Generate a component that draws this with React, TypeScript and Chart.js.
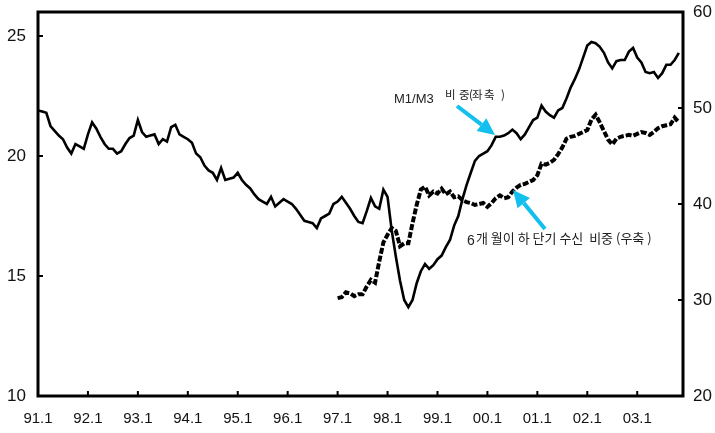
import React, { useEffect, useRef } from "react";
import { Chart, registerables } from "chart.js";

Chart.register(...registerables);

// Monthly series, first value = 1991.1
const xTickLabels = ["91.1", "92.1", "93.1", "94.1", "95.1", "96.1", "97.1", "98.1", "99.1", "00.1", "01.1", "02.1", "03.1"];
const leftTicks = [10, 15, 20, 25];
const rightTicks = [20, 30, 40, 50, 60];

// M1/M3 share (%), left axis
const m1m3Share = [
  21.9, 21.85, 21.8, 21.25, 21.05, 20.85, 20.7, 20.35, 20.1, 20.5,
  20.4, 20.3, 20.9, 21.4, 21.15, 20.8, 20.5, 20.3, 20.3, 20.1,
  20.2, 20.5, 20.75, 20.85, 21.5, 21.0, 20.8, 20.85, 20.9, 20.5,
  20.7, 20.6, 21.2, 21.3, 20.9, 20.8, 20.7, 20.55, 20.1, 19.95,
  19.6, 19.4, 19.3, 19.0, 19.5, 19.0, 19.05, 19.1, 19.3, 19.0,
  18.8, 18.65, 18.4, 18.2, 18.1, 18.0, 18.3, 17.9, 18.05, 18.2,
  18.1, 18.0, 17.8, 17.55, 17.3, 17.25, 17.2, 17.0, 17.4, 17.5,
  17.6, 18.0, 18.1, 18.3, 18.05, 17.8, 17.5, 17.25, 17.2, 17.7,
  18.25, 17.9, 17.8, 18.6, 18.3, 16.9, 15.8, 14.8, 14.0, 13.7,
  14.0, 14.7, 15.2, 15.5, 15.3, 15.45, 15.7, 15.85, 16.2, 16.5,
  17.1, 17.5, 18.2, 18.8, 19.3, 19.8, 20.0, 20.1, 20.2, 20.45,
  20.8, 20.8, 20.85, 20.95, 21.1, 20.95, 20.7, 20.9, 21.2, 21.5,
  21.6, 22.1, 21.85, 21.7, 21.6, 21.9, 22.0, 22.4, 22.85, 23.2,
  23.6, 24.1, 24.6, 24.75, 24.7, 24.55, 24.3, 23.9, 23.65, 23.95,
  24.0, 24.0, 24.35, 24.5, 24.1, 23.9, 23.5, 23.45, 23.5, 23.25,
  23.45, 23.8, 23.8, 24.0, 24.3,
];

// Short-term (6 months or less) deposit share (%), right axis, starts 1997.1
const shortTermStart = 72;
const shortTermShare = [
  30.2, 30.3, 30.8, 30.7, 30.4, 30.6, 30.6, 31.4, 32.1, 31.8,
  34.0, 36.0, 36.8, 37.5, 37.2, 35.6, 35.9, 35.9, 38.0, 39.9,
  41.5, 41.8, 40.9, 41.3, 41.1, 41.6, 41.0, 41.3, 40.7, 40.8,
  40.4, 40.2, 40.1, 39.9, 40.0, 40.1, 39.7, 40.1, 40.6, 40.9,
  40.6, 40.7, 41.3, 41.7, 42.0, 42.1, 42.3, 42.5, 43.0, 44.2,
  44.1, 44.3, 44.6, 45.2, 45.9, 46.8, 47.0, 47.1, 47.3, 47.5,
  47.7, 48.8, 49.3, 48.5, 47.6, 46.7, 46.2, 46.8, 47.0, 47.1,
  47.2, 47.1, 47.3, 47.5, 47.4, 47.2, 47.5, 47.9, 48.1, 48.2,
  48.3, 49.0, 48.5,
];

const NUM_FONT = "'Liberation Sans', Arial, sans-serif";
const KR_FONT = "'Noto Sans CJK KR', 'Liberation Sans', sans-serif";
const ARROW = "#12BFEF";

function drawArrow(ctx: CanvasRenderingContext2D, x0: number, y0: number, x1: number, y1: number) {
  const ang = Math.atan2(y1 - y0, x1 - x0);
  const headLen = 17;
  const headHalf = 8;
  const bx = x1 - headLen * Math.cos(ang);
  const by = y1 - headLen * Math.sin(ang);
  ctx.save();
  ctx.strokeStyle = ARROW;
  ctx.fillStyle = ARROW;
  ctx.lineWidth = 4;
  ctx.beginPath();
  ctx.moveTo(x0, y0);
  ctx.lineTo(bx, by);
  ctx.stroke();
  ctx.beginPath();
  ctx.moveTo(x1, y1);
  ctx.lineTo(bx + headHalf * Math.sin(ang), by - headHalf * Math.cos(ang));
  ctx.lineTo(bx - headHalf * Math.sin(ang), by + headHalf * Math.cos(ang));
  ctx.closePath();
  ctx.fill();
  ctx.restore();
}

// Korean label glyphs placed one by one to keep the spaced-out look
function drawSpaced(ctx: CanvasRenderingContext2D, parts: [string, number][], y: number) {
  parts.forEach(([ch, x]) => ctx.fillText(ch, x, y));
}

const framePlugin = {
  id: "frameAndNotes",
  afterDraw(chart: any) {
    const { ctx, chartArea: a, scales } = chart;
    ctx.save();
    // inward tick marks
    ctx.strokeStyle = "#000";
    ctx.lineWidth = 2;
    ctx.beginPath();
    for (let i = 1; i < xTickLabels.length; i++) {
      const x = scales.x.getPixelForValue(i * 12);
      ctx.moveTo(x, a.bottom);
      ctx.lineTo(x, a.bottom - 5);
    }
    leftTicks.forEach((v) => {
      const y = scales.yL.getPixelForValue(v);
      ctx.moveTo(a.left, y);
      ctx.lineTo(a.left + 5, y);
    });
    rightTicks.forEach((v) => {
      const y = scales.yR.getPixelForValue(v);
      ctx.moveTo(a.right, y);
      ctx.lineTo(a.right - 5, y);
    });
    ctx.stroke();
    // plot frame
    ctx.lineWidth = 3;
    ctx.strokeRect(a.left, a.top, a.right - a.left, a.bottom - a.top);

    // annotations
    drawArrow(ctx, 457, 106, 495, 135);
    drawArrow(ctx, 545, 229, 513, 190);

    ctx.fillStyle = "#222";
    ctx.textBaseline = "alphabetic";
    ctx.textAlign = "left";
    ctx.font = `13px ${NUM_FONT}`;
    ctx.fillText("M1/M3", 394, 103);
    ctx.font = `11.5px ${KR_FONT}`;
    drawSpaced(ctx, [["비", 445], ["중", 459], ["(", 469], ["좌", 472], ["축", 484], [")", 501]], 99);

    ctx.font = `14px ${NUM_FONT}`;
    ctx.fillText("6", 467, 245);
    ctx.font = `13px ${KR_FONT}`;
    ctx.fillText("개 월이 하 단기 수신  비중 (우축 )", 476, 243);
    ctx.restore();
  },
};

export default function App() {
  const ref = useRef<HTMLCanvasElement | null>(null);

  useEffect(() => {
    document.body.style.margin = "0";
    const canvas = ref.current;
    if (!canvas) return;

    const m1m3Points = m1m3Share.map((v, i) => ({ x: i, y: v }));
    const shortPoints = shortTermShare.map((v, i) => ({ x: shortTermStart + i, y: v }));

    const chart = new Chart(canvas, {
      type: "line",
      data: {
        datasets: [
          {
            label: "M1/M3 비중(좌축)",
            data: m1m3Points,
            yAxisID: "yL",
            borderColor: "#000",
            borderWidth: 2.6,
            pointRadius: 0,
            tension: 0,
            order: 1,
          },
          {
            label: "6개월이하 단기수신 비중(우축)",
            data: shortPoints,
            yAxisID: "yR",
            borderColor: "#000",
            borderWidth: 4,
            borderDash: [6, 2],
            pointRadius: 0,
            tension: 0,
            order: 0,
          },
        ],
      },
      options: {
        animation: false,
        responsive: false,
        layout: { padding: { top: 12, left: 0, right: 0, bottom: 0 } },
        plugins: { legend: { display: false }, tooltip: { enabled: false } },
        scales: {
          x: {
            type: "linear",
            min: 0,
            max: 155,
            grid: { display: false, drawTicks: false },
            border: { display: false },
            afterBuildTicks: (s: any) => {
              s.ticks = xTickLabels.map((_, i) => ({ value: i * 12 }));
            },
            afterFit: (s: any) => {
              s.height = 37;
              s.paddingLeft = 0;
              s.paddingRight = 0;
            },
            ticks: {
              autoSkip: false,
              maxRotation: 0,
              padding: 14,
              color: "#111",
              font: { family: NUM_FONT, size: 15 },
              callback: (v: any) => xTickLabels[Math.round(Number(v) / 12)] ?? "",
            },
          },
          yL: {
            type: "linear",
            position: "left",
            min: 10,
            max: 26,
            grid: { display: false, drawTicks: false },
            border: { display: false },
            afterBuildTicks: (s: any) => {
              s.ticks = leftTicks.map((v) => ({ value: v }));
            },
            afterFit: (s: any) => {
              s.width = 38;
              s.paddingTop = 0;
              s.paddingBottom = 0;
            },
            ticks: {
              padding: 12,
              color: "#111",
              font: { family: NUM_FONT, size: 17 },
            },
          },
          yR: {
            type: "linear",
            position: "right",
            min: 20,
            max: 60,
            grid: { display: false, drawTicks: false },
            border: { display: false },
            afterBuildTicks: (s: any) => {
              s.ticks = rightTicks.map((v) => ({ value: v }));
            },
            afterFit: (s: any) => {
              s.width = 32;
              s.paddingTop = 0;
              s.paddingBottom = 0;
            },
            ticks: {
              padding: 10,
              color: "#111",
              font: { family: NUM_FONT, size: 17 },
            },
          },
        },
      },
      plugins: [framePlugin],
    });

    return () => chart.destroy();
  }, []);

  return (
    <div style={{ width: 715, height: 433, background: "#fff" }}>
      <canvas ref={ref} width={715} height={433} />
    </div>
  );
}
